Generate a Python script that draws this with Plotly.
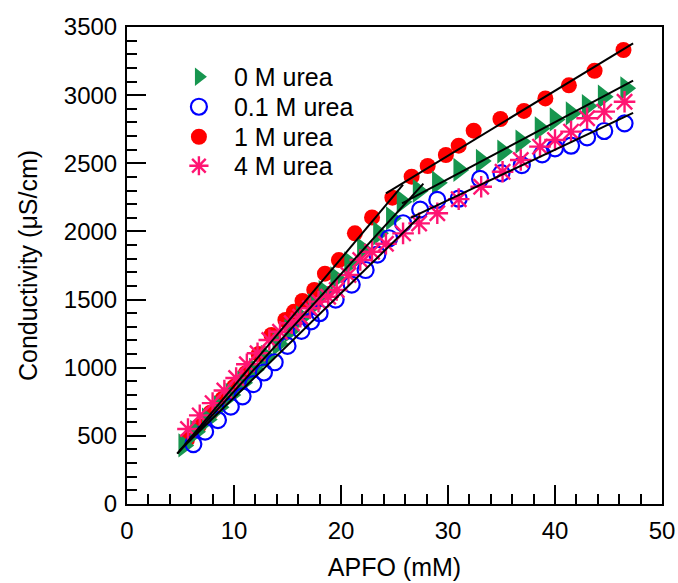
import plotly.graph_objects as go

# ---- data ----
x_0M = [5.3, 6.4, 7.5, 8.6, 9.7, 10.8, 11.9, 13.0, 14.1, 15.2, 16.3, 17.4, 18.4, 19.5, 20.8,
        22.0, 23.5, 24.7, 25.7, 27.2, 29.0, 31.0, 33.1, 35.1, 36.8, 38.6, 40.0, 41.5, 43.0, 44.5, 46.6]
y_0M = [430, 530, 620, 710, 800, 890, 985, 1080, 1175, 1270, 1370, 1460, 1555, 1656, 1766,
        1869, 1986, 2096, 2218, 2297, 2358, 2451, 2517, 2585, 2659, 2756, 2822, 2866, 2920, 2989, 3050]

x_01M = [6.2, 7.3, 8.5, 9.7, 10.8, 11.8, 12.8, 13.8, 15.0, 16.3, 17.2, 18.0, 19.5, 21.0, 22.3,
         23.4, 24.5, 25.8, 27.4, 29.0, 31.0, 33.0, 35.0, 36.9, 38.8, 40.0, 41.5, 43.0, 44.6, 46.5]
y_01M = [440, 531, 616, 714, 790, 880, 965, 1040, 1160, 1270, 1340, 1400, 1500, 1610, 1717,
         1830, 1950, 2060, 2160, 2231, 2240, 2385, 2428, 2487, 2566, 2610, 2629, 2690, 2737, 2793]

x_1M = [5.6, 6.7, 7.8, 8.9, 10.0, 11.1, 12.3, 13.5, 14.8, 15.6, 16.4, 17.5, 18.5, 19.8, 21.3,
        22.9, 24.8, 26.6, 28.1, 29.8, 31.0, 32.4, 34.9, 37.1, 39.1, 41.3, 43.7, 46.4]
y_1M = [470, 570, 670, 770, 860, 960, 1100, 1240, 1350, 1410, 1490, 1570, 1690, 1790, 1986,
        2103, 2248, 2402, 2480, 2561, 2629, 2739, 2825, 2884, 2976, 3072, 3179, 3331]

x_4M = [5.7, 6.8, 8.0, 9.1, 10.2, 11.2, 12.2, 13.3, 14.3, 15.4, 16.2, 17.1, 17.9, 18.8, 19.6,
        20.7, 21.8, 22.9, 24.2, 25.8, 27.3, 29.0, 31.0, 33.1, 35.1, 36.8, 38.6, 40.0, 41.5, 43.0, 44.6, 46.5]
y_4M = [550, 650, 740, 833, 925, 1025, 1106, 1203, 1264, 1326, 1374, 1436, 1485, 1521, 1570,
        1680, 1790, 1851, 1910, 1986, 2059, 2133, 2237, 2328, 2438, 2524, 2622, 2671, 2732, 2830, 2879, 2952]

# linear fits (pre- and post-CMC): [x_start, x_end, intercept, slope]
fit_lower_0M = [4.7, 27.7, -34.7, 86.1]
fit_upper_0M = [25.7, 47.3, 1134.0, 41.7]
fit_lower_01M = [4.9, 27.4, 15.0, 76.6]
fit_upper_01M = [26.5, 47.3, 1119.5, 37.0]
fit_lower_1M = [4.7, 25.8, -69.5, 93.5]
fit_upper_1M = [24.2, 47.3, 1128.0, 47.6]

series_names = ["0 M urea", "0.1 M urea", "1 M urea", "4 M urea"]

FONT = "Liberation Sans, Arial, sans-serif"

fig = go.Figure()

fig.add_trace(go.Scatter(x=x_1M, y=y_1M, mode="markers", name=series_names[2], legend="legend3",
                         marker=dict(symbol="circle", size=16, color="#ff0000")))
fig.add_trace(go.Scatter(x=x_0M, y=y_0M, mode="markers", name=series_names[0], legend="legend",
                         marker=dict(symbol="triangle-right", size=21, color="#17964f")))
fig.add_trace(go.Scatter(x=x_01M, y=y_01M, mode="markers", name=series_names[1], legend="legend2",
                         marker=dict(symbol="circle-open", size=16, color="#0000ff",
                                     line=dict(width=2.2, color="#0000ff"))))
fig.add_trace(go.Scatter(x=x_4M, y=y_4M, mode="markers", name=series_names[3], legend="legend4",
                         marker=dict(symbol="asterisk-open", size=18, color="#ff1572",
                                     line=dict(width=2.4, color="#ff1572"))))

for fit in [fit_lower_0M, fit_upper_0M, fit_lower_01M, fit_upper_01M, fit_lower_1M, fit_upper_1M]:
    xs = [fit[0], fit[1]]
    ys = [fit[2] + fit[3] * v for v in xs]
    fig.add_trace(go.Scatter(x=xs, y=ys, mode="lines", showlegend=False,
                             line=dict(color="black", width=2)))

axis_common = dict(
    showline=True, linecolor="black", linewidth=2, mirror=True,
    ticks="inside", tickwidth=2, tickcolor="black", ticklen=19,
    showgrid=False, zeroline=False, automargin=False,
    tickfont=dict(family=FONT, size=24, color="black"),
)

fig.update_xaxes(range=[0, 50], dtick=10, tick0=0, ticklabelstandoff=4,
                 minor=dict(ticks="inside", ticklen=10, tickwidth=2, tickcolor="black", dtick=2, showgrid=False),
                 title=dict(text="APFO (mM)", font=dict(family=FONT, size=25, color="black"), standoff=16),
                 **axis_common)
fig.update_yaxes(range=[0, 3500], dtick=500, tick0=0, ticklabelstandoff=3,
                 minor=dict(ticks="inside", ticklen=10, tickwidth=2, tickcolor="black", dtick=100, showgrid=False),
                 title=dict(text="Conductivity (μS/cm)", font=dict(family=FONT, size=25, color="black"), standoff=19),
                 **axis_common)

legend_rows = [0.8952, 0.8323, 0.7694, 0.7086]
legend_style = dict(x=0.069, xanchor="left", yanchor="middle",
                    bgcolor="rgba(0,0,0,0)", borderwidth=0, itemwidth=60,
                    font=dict(family=FONT, size=25, color="black"), itemsizing="trace")

fig.update_layout(
    width=678, height=583,
    margin=dict(l=127, r=16, t=27, b=79),
    paper_bgcolor="white", plot_bgcolor="white",
    showlegend=True,
    legend=dict(y=legend_rows[0], **legend_style),
    legend2=dict(y=legend_rows[1], **legend_style),
    legend3=dict(y=legend_rows[2], **legend_style),
    legend4=dict(y=legend_rows[3], **legend_style),
)

fig.write_html("out.html", config={"displayModeBar": False},
               post_script="document.body.style.margin='0';")
